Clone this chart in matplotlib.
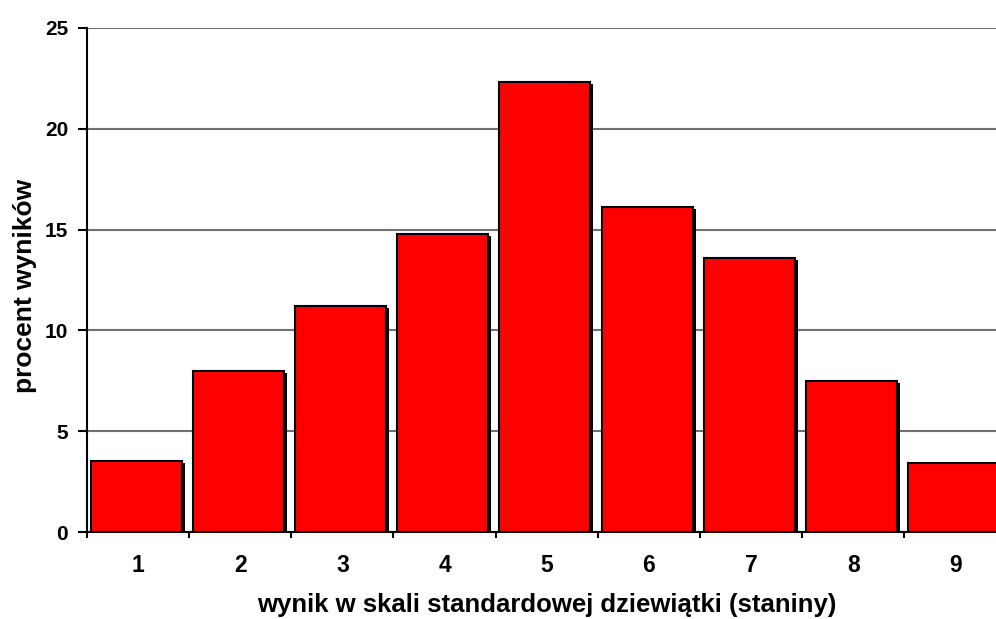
import numpy as np
import matplotlib.pyplot as plt

plt.rcParams['font.family'] = ['Liberation Sans', 'DejaVu Sans']
plt.rcParams['font.weight'] = 'bold'

# Stanine scores and percentage of results in each
staniny = [1, 2, 3, 4, 5, 6, 7, 8, 9]
procent = [3.5, 8.0, 11.2, 14.8, 22.3, 16.1, 13.6, 7.5, 3.4]
y_ticks = [0, 5, 10, 15, 20, 25]

fig = plt.figure(figsize=(9.96, 6.19), dpi=100)
ax = fig.add_axes([0.0873, 0.1405, 0.9127, 0.8143])

x = np.array(staniny, dtype=float)
width = 0.89
# drop shadow first (a bit right and down), then the red bars on top
ax.bar(x - 0.018 + 0.03, procent, width=width, bottom=-0.1, color='black', zorder=2)
ax.bar(x - 0.018, procent, width=width, color='#ff0000', edgecolor='black',
       linewidth=1.5, zorder=3)

ax.set_yticks(y_ticks)
ax.set_xticks(x)
ax.set_xticklabels([str(s) for s in staniny])
# category boundaries get the small tick marks
ax.set_xticks(np.arange(0.5, 9.0, 1.0), minor=True)
ax.set_xlim(0.5, 9.397)
ax.set_ylim(0, 25)

ax.yaxis.grid(True, color='#707070', linewidth=1.5, zorder=1)
ax.set_axisbelow(True)

for side in ['top', 'right']:
    ax.spines[side].set_visible(False)
ax.spines['left'].set_linewidth(1.5)
ax.spines['bottom'].set_linewidth(1.5)

ax.tick_params(axis='y', length=6.5, width=1.5, pad=7, labelsize=15)
ax.tick_params(axis='x', which='major', length=0, pad=16, labelsize=16.5)
ax.tick_params(axis='x', which='minor', length=4.5, width=1.5)

ax.set_xlabel('wynik w skali standardowej dziewiątki (staniny)', fontsize=18.5,
              fontweight='bold')
ax.set_ylabel('procent wyników', fontsize=19, fontweight='bold')
ax.xaxis.set_label_coords(0.5055, -0.12)
ax.yaxis.set_label_coords(-0.055, 0.489)

fig.savefig('out.png', dpi=100)
